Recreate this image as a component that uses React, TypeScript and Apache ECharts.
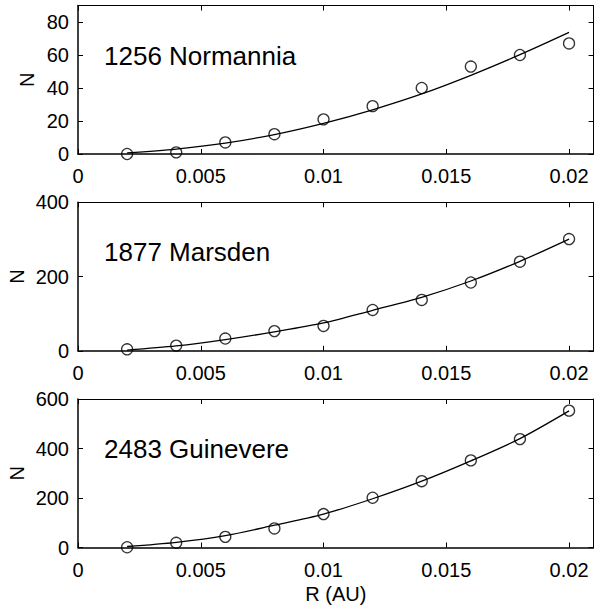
import React, { useEffect, useRef } from "react";
import * as echarts from "echarts";

const R = [0.002, 0.004, 0.006, 0.008, 0.01, 0.012, 0.014, 0.016, 0.018, 0.02];
const normanniaObs = [0, 1, 7, 12, 21, 29, 40, 53, 60, 67];
const normanniaFit = [0.7, 3.0, 6.6, 11.8, 18.6, 26.8, 36.4, 47.7, 60.2, 73.7];
const marsdenObs = [4, 14, 33, 53, 67, 110, 137, 184, 240, 301];
const marsdenFit = [2, 13, 30, 51, 75, 109, 144, 188, 241, 301];
const guinevereObs = [1, 19, 43, 77, 135, 201, 268, 352, 438, 553];
const guinevereFit = [4, 21, 48, 90, 135, 197, 268, 350, 440, 552];
const names = ["1256 Normannia", "1877 Marsden", "2483 Guinevere"];
const yMax = [90, 400, 600];
const yInterval = [20, 200, 200];
const xTitle = "R (AU)";
const yTitle = "N";

const FONT = "'Liberation Sans', Arial, Helvetica, sans-serif";

export default function App() {
  const ref = useRef<HTMLDivElement>(null);
  useEffect(() => {
    const chart = echarts.init(ref.current!, null, { renderer: "svg" });
    const tops = [5.5, 202.3, 399];
    const H = 148.5;
    const obs = [normanniaObs, marsdenObs, guinevereObs];
    const fit = [normanniaFit, marsdenFit, guinevereFit];
    const nameX = [27, 16.5, 16.5];
    const grid: any[] = [];
    const xAxis: any[] = [];
    const yAxis: any[] = [];
    const series: any[] = [];
    const graphic: any[] = [];
    for (let i = 0; i < 3; i++) {
      grid.push({ left: 78, width: 515.6, top: tops[i], height: H });
      const xBase = {
        type: "value",
        gridIndex: i,
        min: 0,
        max: 0.021,
        interval: 0.005,
        splitLine: { show: false },
        axisTick: { inside: true, length: 5, lineStyle: { color: "#000", width: 1 } },
      };
      xAxis.push({
        ...xBase,
        position: "bottom",
        axisLine: { onZero: false, lineStyle: { color: "#000", width: 1.5 } },
        axisLabel: {
          color: "#000",
          fontSize: 20,
          fontFamily: FONT,
          margin: 12,
          showMaxLabel: false,
        },
        name: i === 2 ? xTitle : "",
        nameLocation: "middle",
        nameGap: 36,
        nameTextStyle: { color: "#000", fontSize: 20, fontFamily: FONT },
      });
      xAxis.push({
        ...xBase,
        position: "top",
        axisLine: { onZero: false, lineStyle: { color: "#000", width: 1 } },
        axisLabel: { show: false },
      });
      const yBase = {
        type: "value",
        gridIndex: i,
        min: 0,
        max: yMax[i],
        interval: yInterval[i],
        splitLine: { show: false },
        axisTick: { inside: true, length: 5, lineStyle: { color: "#000", width: 1 } },
      };
      yAxis.push({
        ...yBase,
        position: "left",
        axisLine: { show: true, onZero: false, lineStyle: { color: "#000", width: 1.5 } },
        axisLabel: {
          color: "#000",
          fontSize: 20,
          fontFamily: FONT,
          margin: 9,
          showMaxLabel: yMax[i] % yInterval[i] === 0,
        },
      });
      yAxis.push({
        ...yBase,
        position: "right",
        axisLine: { show: true, onZero: false, lineStyle: { color: "#000", width: 1 } },
        axisLabel: { show: false },
      });
      series.push({
        type: "line",
        xAxisIndex: i * 2,
        yAxisIndex: i * 2,
        data: R.map((r, k) => [r, fit[i][k]]),
        showSymbol: false,
        smooth: 0.3,
        lineStyle: { color: "#000", width: 1.3 },
        silent: true,
      });
      series.push({
        type: "scatter",
        xAxisIndex: i * 2,
        yAxisIndex: i * 2,
        data: R.map((r, k) => [r, obs[i][k]]),
        symbol: "circle",
        symbolSize: 11,
        itemStyle: { color: "rgba(0,0,0,0)", borderColor: "#000", borderWidth: 1.3 },
      });
      graphic.push({
        type: "text",
        left: 104,
        top: tops[i] + 50 - 13,
        style: {
          text: names[i],
          fontSize: 26,
          fontFamily: FONT,
          fill: "#000",
        },
      });
      graphic.push({
        type: "text",
        x: nameX[i],
        y: tops[i] + H / 2,
        rotation: Math.PI / 2,
        style: {
          text: yTitle,
          fontSize: 20,
          fontFamily: FONT,
          fill: "#000",
          align: "center",
          verticalAlign: "middle",
        },
      });
    }
    chart.setOption({
      animation: false,
      backgroundColor: "#fff",
      grid,
      xAxis,
      yAxis,
      series,
      graphic,
    });
    return () => chart.dispose();
  }, []);
  return (
    <div
      ref={ref}
      style={{ position: "absolute", left: 0, top: 0, width: 594, height: 610 }}
    />
  );
}
